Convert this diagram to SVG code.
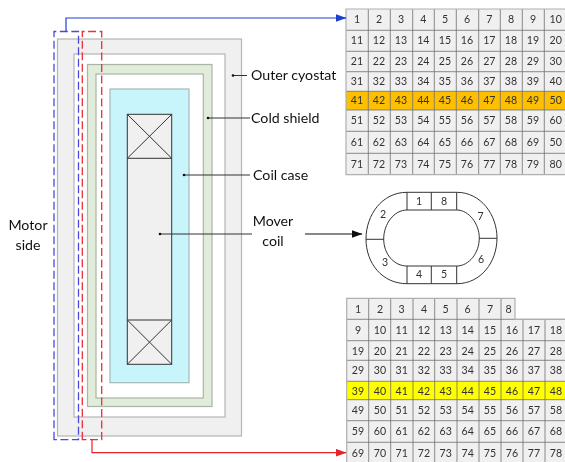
<svg xmlns="http://www.w3.org/2000/svg" width="565" height="462" viewBox="0 0 565 462">
<defs>
<marker id="ab" markerUnits="userSpaceOnUse" markerWidth="11" markerHeight="8" refX="10.5" refY="4" orient="auto"><path d="M0,0L11,4L0,8Z" fill="#1f3fd0"/></marker>
<marker id="ar" markerUnits="userSpaceOnUse" markerWidth="11" markerHeight="8" refX="10.5" refY="4" orient="auto"><path d="M0,0L11,4L0,8Z" fill="#e8202a"/></marker>
<marker id="ak" markerUnits="userSpaceOnUse" markerWidth="11" markerHeight="8" refX="10.5" refY="4" orient="auto"><path d="M0,0L11,4L0,8Z" fill="#111"/></marker>
<marker id="dot" markerUnits="userSpaceOnUse" markerWidth="4" markerHeight="4" refX="2" refY="2"><circle cx="2" cy="2" r="1.3" fill="#111"/></marker>
<filter id="soft" x="0" y="0" width="100%" height="100%"><feGaussianBlur stdDeviation="0.35"/></filter>
</defs>
<style>
text{font-family:Lato,"Open Sans","Liberation Sans",sans-serif;fill:#222}
.lab{font-size:14.2px;fill:#111}
.n{font-size:10.6px;text-anchor:middle;fill:#333}
.s{stroke:#b5b5b5;stroke-width:1.2}
.grid{stroke:#6e6e6e;stroke-width:.8;fill:none}
.edge{fill:none;stroke:#b0b0b0;stroke-width:1.2}
.lead{stroke:#333;stroke-width:1;fill:none;marker-start:url(#dot)}
.c{stroke:#333;stroke-width:1;fill:none}
.oval{stroke:#333;stroke-width:1;fill:none}
</style>
<g filter="url(#soft)">
<rect width="565" height="462" fill="#fff"/>
<g id="outer-cyostat"><rect class="s" x="57.5" y="39" width="184" height="397" fill="#f0f0f0"/></g>
<g id="vacuum-gap"><rect class="s" x="74" y="54" width="151" height="363" fill="#fff"/></g>
<g id="cold-shield"><rect x="87.5" y="64.5" width="124.5" height="342" fill="#e2ecda" stroke="#aab5a5" stroke-width="1.2"/></g>
<g id="cold-gap"><rect x="96" y="74" width="107.3" height="324" fill="#fff" stroke="#aab5a5" stroke-width="1.2"/></g>
<g id="coil-case"><rect x="110" y="89" width="79" height="293.7" fill="#c8f5fb" stroke="#a5b8b8" stroke-width="1.2"/></g>
<g id="mover-coil">
<rect x="127.3" y="114.3" width="44.4" height="250" fill="#f0f0f0" stroke="#333" stroke-width="1"/>
<path class="c" d="M127.3,158.3H171.7M127.3,114.3L171.7,158.3M171.7,114.3L127.3,158.3M127.3,320H171.7M127.3,320L171.7,364.3M171.7,320L127.3,364.3"/>
</g>

<g id="table-top">
<rect x="346" y="9" width="219" height="165.7" fill="#f0f0f0"/>
<rect x="346" y="91.3" width="219" height="18.7" fill="#fdbf00"/>
<path class="grid" d="M368.3,9V174.7M390.3,9V174.7M412.7,9V174.7M434.3,9V174.7M456.3,9V174.7M478.7,9V174.7M500.3,9V174.7M522.3,9V174.7M544.3,9V174.7M346,30.3H565M346,51.3H565M346,71.7H565M346,91.3H565M346,110H565M346,131.3H565M346,153.3H565"/>
<path class="edge" d="M565,9H346V174.7H565"/>
<g class="n">
<text class="n" x="357" y="23">1</text><text class="n" x="379" y="23">2</text><text class="n" x="401" y="23">3</text><text class="n" x="423.3" y="23">4</text><text class="n" x="445" y="23">5</text><text class="n" x="467" y="23">6</text><text class="n" x="489.3" y="23">7</text><text class="n" x="511" y="23">8</text><text class="n" x="533" y="23">9</text><text class="n" x="555.7" y="23">10</text>
<text class="n" x="357" y="44.3">11</text><text class="n" x="379" y="44.3">12</text><text class="n" x="401" y="44.3">13</text><text class="n" x="423.3" y="44.3">14</text><text class="n" x="445" y="44.3">15</text><text class="n" x="467" y="44.3">16</text><text class="n" x="489.3" y="44.3">17</text><text class="n" x="511" y="44.3">18</text><text class="n" x="533" y="44.3">19</text><text class="n" x="555.7" y="44.3">20</text>
<text class="n" x="357" y="65.3">21</text><text class="n" x="379" y="65.3">22</text><text class="n" x="401" y="65.3">23</text><text class="n" x="423.3" y="65.3">24</text><text class="n" x="445" y="65.3">25</text><text class="n" x="467" y="65.3">26</text><text class="n" x="489.3" y="65.3">27</text><text class="n" x="511" y="65.3">28</text><text class="n" x="533" y="65.3">29</text><text class="n" x="555.7" y="65.3">30</text>
<text class="n" x="357" y="84.6">31</text><text class="n" x="379" y="84.6">32</text><text class="n" x="401" y="84.6">33</text><text class="n" x="423.3" y="84.6">34</text><text class="n" x="445" y="84.6">35</text><text class="n" x="467" y="84.6">36</text><text class="n" x="489.3" y="84.6">37</text><text class="n" x="511" y="84.6">38</text><text class="n" x="533" y="84.6">39</text><text class="n" x="555.7" y="84.6">40</text>
<text class="n" x="357" y="104.3">41</text><text class="n" x="379" y="104.3">42</text><text class="n" x="401" y="104.3">43</text><text class="n" x="423.3" y="104.3">44</text><text class="n" x="445" y="104.3">45</text><text class="n" x="467" y="104.3">46</text><text class="n" x="489.3" y="104.3">47</text><text class="n" x="511" y="104.3">48</text><text class="n" x="533" y="104.3">49</text><text class="n" x="555.7" y="104.3">50</text>
<text class="n" x="357" y="123.9">51</text><text class="n" x="379" y="123.9">52</text><text class="n" x="401" y="123.9">53</text><text class="n" x="423.3" y="123.9">54</text><text class="n" x="445" y="123.9">55</text><text class="n" x="467" y="123.9">56</text><text class="n" x="489.3" y="123.9">57</text><text class="n" x="511" y="123.9">58</text><text class="n" x="533" y="123.9">59</text><text class="n" x="555.7" y="123.9">60</text>
<text class="n" x="357" y="146.3">61</text><text class="n" x="379" y="146.3">62</text><text class="n" x="401" y="146.3">63</text><text class="n" x="423.3" y="146.3">64</text><text class="n" x="445" y="146.3">65</text><text class="n" x="467" y="146.3">66</text><text class="n" x="489.3" y="146.3">67</text><text class="n" x="511" y="146.3">68</text><text class="n" x="533" y="146.3">69</text><text class="n" x="555.7" y="146.3">50</text>
<text class="n" x="357" y="167.6">71</text><text class="n" x="379" y="167.6">72</text><text class="n" x="401" y="167.6">73</text><text class="n" x="423.3" y="167.6">74</text><text class="n" x="445" y="167.6">75</text><text class="n" x="467" y="167.6">76</text><text class="n" x="489.3" y="167.6">77</text><text class="n" x="511" y="167.6">78</text><text class="n" x="533" y="167.6">79</text><text class="n" x="555.7" y="167.6">80</text>
</g>
</g>

<g id="table-bottom">
<path d="M346.7,298.3H515V319.3H565V462H346.7Z" fill="#f0f0f0"/>
<rect x="346.7" y="381.3" width="218.3" height="18.4" fill="#ffff00"/>
<path class="grid" d="M368.7,298.3V462M390.7,298.3V462M413,298.3V462M434.7,298.3V462M457,298.3V462M479,298.3V462M501,298.3V462M523,319.3V462M545,319.3V462M346.7,319.3H565M346.7,340.7H565M346.7,360.3H565M346.7,381.3H565M346.7,399.7H565M346.7,420.7H565M346.7,442.3H565"/>
<path class="edge" d="M346.7,462V298.3H515V319.3H565"/>
<g class="n">
<text class="n" x="358" y="313">1</text><text class="n" x="380" y="313">2</text><text class="n" x="401.7" y="313">3</text><text class="n" x="424" y="313">4</text><text class="n" x="445.7" y="313">5</text><text class="n" x="467.7" y="313">6</text><text class="n" x="490" y="313">7</text><text class="n" x="508.7" y="313">8</text>
<text class="n" x="358" y="333.6">9</text><text class="n" x="380" y="333.6">10</text><text class="n" x="401.7" y="333.6">11</text><text class="n" x="424" y="333.6">12</text><text class="n" x="445.7" y="333.6">13</text><text class="n" x="467.7" y="333.6">14</text><text class="n" x="490" y="333.6">15</text><text class="n" x="512" y="333.6">16</text><text class="n" x="534" y="333.6">17</text><text class="n" x="556" y="333.6">18</text>
<text class="n" x="358" y="354.9">19</text><text class="n" x="380" y="354.9">20</text><text class="n" x="401.7" y="354.9">21</text><text class="n" x="424" y="354.9">22</text><text class="n" x="445.7" y="354.9">23</text><text class="n" x="467.7" y="354.9">24</text><text class="n" x="490" y="354.9">25</text><text class="n" x="512" y="354.9">26</text><text class="n" x="534" y="354.9">27</text><text class="n" x="556" y="354.9">28</text>
<text class="n" x="358" y="373.9">29</text><text class="n" x="380" y="373.9">30</text><text class="n" x="401.7" y="373.9">31</text><text class="n" x="424" y="373.9">32</text><text class="n" x="445.7" y="373.9">33</text><text class="n" x="467.7" y="373.9">34</text><text class="n" x="490" y="373.9">35</text><text class="n" x="512" y="373.9">36</text><text class="n" x="534" y="373.9">37</text><text class="n" x="556" y="373.9">38</text>
<text class="n" x="358" y="395.3">39</text><text class="n" x="380" y="395.3">40</text><text class="n" x="401.7" y="395.3">41</text><text class="n" x="424" y="395.3">42</text><text class="n" x="445.7" y="395.3">43</text><text class="n" x="467.7" y="395.3">44</text><text class="n" x="490" y="395.3">45</text><text class="n" x="512" y="395.3">46</text><text class="n" x="534" y="395.3">47</text><text class="n" x="556" y="395.3">48</text>
<text class="n" x="358" y="414.3">49</text><text class="n" x="380" y="414.3">50</text><text class="n" x="401.7" y="414.3">51</text><text class="n" x="424" y="414.3">52</text><text class="n" x="445.7" y="414.3">53</text><text class="n" x="467.7" y="414.3">54</text><text class="n" x="490" y="414.3">55</text><text class="n" x="512" y="414.3">56</text><text class="n" x="534" y="414.3">57</text><text class="n" x="556" y="414.3">58</text>
<text class="n" x="358" y="435.3">59</text><text class="n" x="380" y="435.3">60</text><text class="n" x="401.7" y="435.3">61</text><text class="n" x="424" y="435.3">62</text><text class="n" x="445.7" y="435.3">63</text><text class="n" x="467.7" y="435.3">64</text><text class="n" x="490" y="435.3">65</text><text class="n" x="512" y="435.3">66</text><text class="n" x="534" y="435.3">67</text><text class="n" x="556" y="435.3">68</text>
<text class="n" x="358" y="456.6">69</text><text class="n" x="380" y="456.6">70</text><text class="n" x="401.7" y="456.6">71</text><text class="n" x="424" y="456.6">72</text><text class="n" x="445.7" y="456.6">73</text><text class="n" x="467.7" y="456.6">74</text><text class="n" x="490" y="456.6">75</text><text class="n" x="512" y="456.6">76</text><text class="n" x="534" y="456.6">77</text><text class="n" x="556" y="456.6">78</text>
</g>
</g>

<g id="coil-ring">
<path class="oval" d="M407,192.3C382,192.3 366,215 366,239C366,263 382,283.7 407,283.7H456.7C481,283.7 497,262 497,238C497,215 481,192.3 456.7,192.3Z"/>
<path class="oval" d="M407,210C394,210 383.7,224 383.7,239C383.7,254 394,266 407,266H456.7C469,266 479.3,253 479.3,238C479.3,224 469,210 456.7,210Z"/>
<path class="oval" d="M407,192.3V210M431.3,192.3V210M456.7,192.3V210M407,266V283.7M431.3,266V283.7M456.7,266V283.7M366,239.3H383.7M479.3,238.3H497"/>
<text class="n" x="419" y="204.5">1</text><text class="n" x="444" y="204.5">8</text><text class="n" x="383" y="218">2</text><text class="n" x="480.5" y="220">7</text><text class="n" x="385" y="266">3</text><text class="n" x="481" y="263">6</text><text class="n" x="419" y="278">4</text><text class="n" x="444" y="278">5</text>
</g>

<g id="labels">
<text class="lab" x="251" y="80">Outer cyostat</text>
<text class="lab" x="251" y="123">Cold shield</text>
<text class="lab" x="253" y="180">Coil case</text>
<text class="lab" x="273" y="226" text-anchor="middle">Mover</text>
<text class="lab" x="273" y="246" text-anchor="middle">coil</text>
<text class="lab" x="28" y="230" text-anchor="middle">Motor</text>
<text class="lab" x="28" y="250" text-anchor="middle">side</text>
</g>

<g id="connectors">
<path d="M54,439.7V31.5H78.5V439.7Z" fill="none" stroke="#4a4ae0" stroke-width="1.3" stroke-dasharray="8 3.5"/>
<path d="M82.3,439.7V31.5H101.7V439.7Z" fill="none" stroke="#e8303a" stroke-width="1.3" stroke-dasharray="8 3.5"/>
<path d="M66,31.5V18H346" fill="none" stroke="#1f3fd0" stroke-width="1.2" marker-end="url(#ab)"/>
<path d="M92,439.7V452.7H346" fill="none" stroke="#e8202a" stroke-width="1.2" marker-end="url(#ar)"/>
<path d="M305,234H362" fill="none" stroke="#111" stroke-width="1" marker-end="url(#ak)"/>
<path class="lead" d="M233,75.5H247"/>
<path class="lead" d="M208,118H250"/>
<path class="lead" d="M184,175H250"/>
<path class="lead" d="M160,234H252"/>
</g>
</g>
</svg>
